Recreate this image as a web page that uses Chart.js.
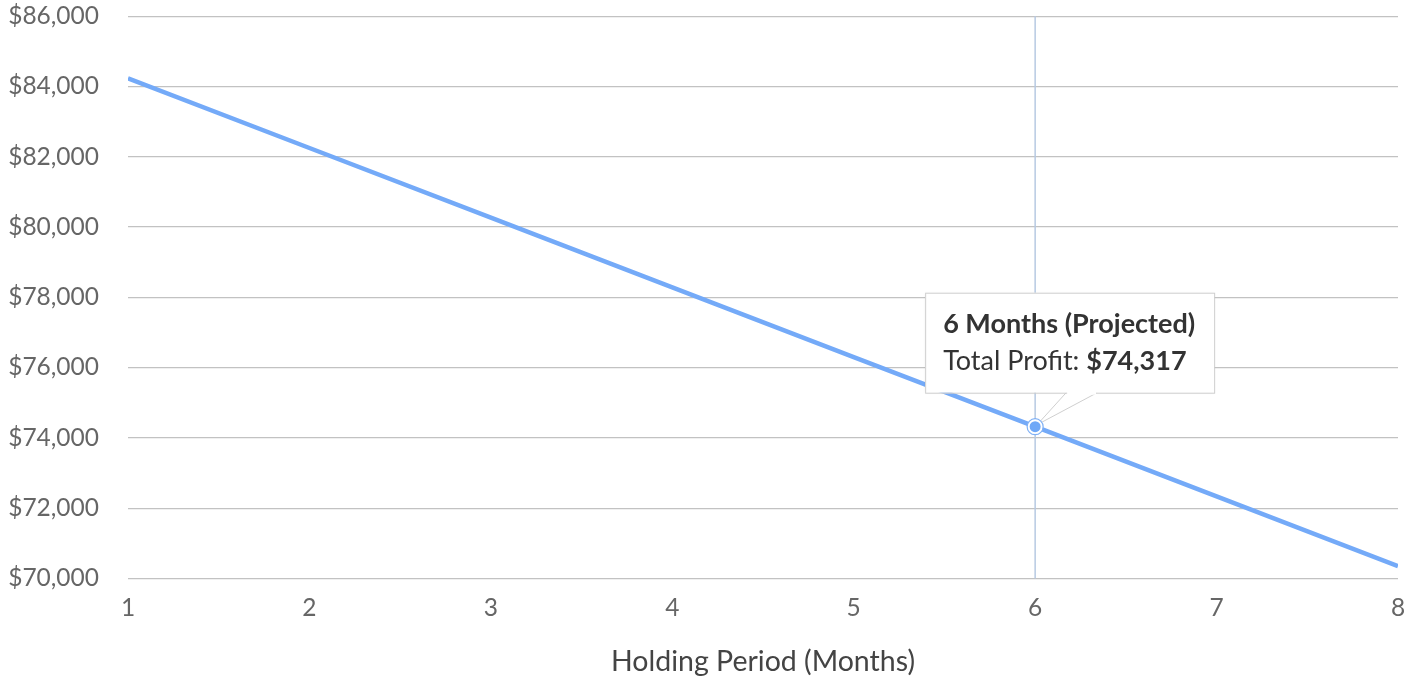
<!DOCTYPE html>
<html>
<head>
<meta charset="utf-8">
<script src="https://cdn.jsdelivr.net/npm/chart.js@4/dist/chart.umd.min.js"></script>
<style>
  html, body { margin: 0; padding: 0; background: #fff; }
  #wrap { width: 1424px; height: 683px; }
</style>
</head>
<body>
<div id="wrap"><canvas id="profitChart"></canvas></div>
<script>
// holding period in months and projected total profit
const months = [1, 2, 3, 4, 5, 6, 7, 8];
const profit = [84232, 82249, 80266, 78283, 76300, 74317, 72334, 70351];
const yTicks = [70000, 72000, 74000, 76000, 78000, 80000, 82000, 84000, 86000];
const hoverIndex = 5;

const FONT = 'Lato, "Source Sans Pro", sans-serif';

const money = v => '$' + Math.round(v).toLocaleString('en-US');

// crosshair + callout tooltip for the hovered month
const hoverPlugin = {
  id: 'hover',
  afterDatasetsDraw(chart) {
    const ctx = chart.ctx;
    const x = chart.scales.x.getPixelForValue(months[hoverIndex]);
    const y = chart.scales.y.getPixelForValue(profit[hoverIndex]);
    const area = chart.chartArea;

    ctx.save();
    // vertical crosshair
    ctx.strokeStyle = '#b7c9e2';
    ctx.lineWidth = 1.5;
    ctx.beginPath();
    ctx.moveTo(x, area.top);
    ctx.lineTo(x, area.bottom);
    ctx.stroke();

    // tooltip box
    const title = months[hoverIndex] + ' Months (Projected)';
    const label = 'Total Profit: ';
    const value = money(profit[hoverIndex]);
    const bx = x - 110, by = y - 134, bw = 289, bh = 100;

    // callout to the point
    ctx.fillStyle = '#fff';
    ctx.strokeStyle = '#cfcfcf';
    ctx.lineWidth = 1;
    ctx.beginPath();
    ctx.moveTo(x + 31, by + bh);
    ctx.lineTo(x + 2, y - 2);
    ctx.lineTo(x + 62, by + bh);
    ctx.closePath();
    ctx.fill();
    ctx.beginPath();
    ctx.moveTo(x + 31, by + bh);
    ctx.lineTo(x + 2, y - 2);
    ctx.lineTo(x + 62, by + bh);
    ctx.stroke();

    ctx.shadowColor = 'rgba(0,0,0,0.08)';
    ctx.shadowBlur = 3;
    ctx.fillRect(bx, by, bw, bh);
    ctx.shadowColor = 'transparent';
    ctx.strokeRect(bx + 0.5, by + 0.5, bw, bh);
    ctx.fillRect(x + 32, by + bh - 1, 29, 3);

    ctx.textBaseline = 'middle';
    ctx.textAlign = 'left';
    ctx.fillStyle = '#333';
    ctx.font = 'bold 27px ' + FONT;
    ctx.fillText(title, bx + 18, by + 32);
    ctx.font = '27px ' + FONT;
    ctx.fillText(label, bx + 18, by + 69);
    const lw = ctx.measureText(label).width;
    ctx.font = 'bold 27px ' + FONT;
    ctx.fillText(value, bx + 18 + lw, by + 69);

    // highlighted point
    ctx.beginPath();
    ctx.arc(x, y, 8, 0, Math.PI * 2);
    ctx.fillStyle = '#fff';
    ctx.fill();
    ctx.strokeStyle = '#7fb0f5';
    ctx.lineWidth = 1.2;
    ctx.stroke();
    ctx.beginPath();
    ctx.arc(x, y, 5.5, 0, Math.PI * 2);
    ctx.fillStyle = '#6fa8f7';
    ctx.fill();
    ctx.restore();
  }
};

new Chart(document.getElementById('profitChart'), {
  type: 'line',
  data: {
    datasets: [{
      label: 'Total Profit',
      data: months.map((m, i) => ({ x: m, y: profit[i] })),
      borderColor: '#74aaf8',
      borderWidth: 4.5,
      pointRadius: 0,
      tension: 0,
      fill: false
    }]
  },
  options: {
    responsive: true,
    maintainAspectRatio: false,
    animation: false,
    layout: { padding: { left: 0, right: 26, top: 0, bottom: 4 } },
    plugins: {
      legend: { display: false },
      tooltip: { enabled: false }
    },
    scales: {
      x: {
        type: 'linear',
        min: 1,
        max: 8,
        grid: { display: false, drawTicks: true, tickLength: 15, tickColor: 'transparent' },
        border: { display: false },
        ticks: {
          stepSize: 1,
          padding: 0,
          color: '#666',
          font: { family: FONT, size: 24.5 }
        },
        title: {
          display: true,
          text: 'Holding Period (Months)',
          color: '#444',
          padding: { top: 22, bottom: 0 },
          font: { family: FONT, size: 28.5 }
        }
      },
      y: {
        min: 70000,
        max: 86000,
        afterBuildTicks: axis => { axis.ticks = yTicks.map(v => ({ value: v })); },
        afterFit: axis => { axis.width = 128; },
        grid: { color: '#c2c2c2', lineWidth: 1.2, drawTicks: true, tickLength: 27.5, tickColor: 'transparent' },
        border: { display: false },
        ticks: {
          padding: 1.5,
          color: '#666',
          font: { family: FONT, size: 24.5 },
          callback: v => money(v)
        }
      }
    }
  },
  plugins: [hoverPlugin]
});
</script>
</body>
</html>
